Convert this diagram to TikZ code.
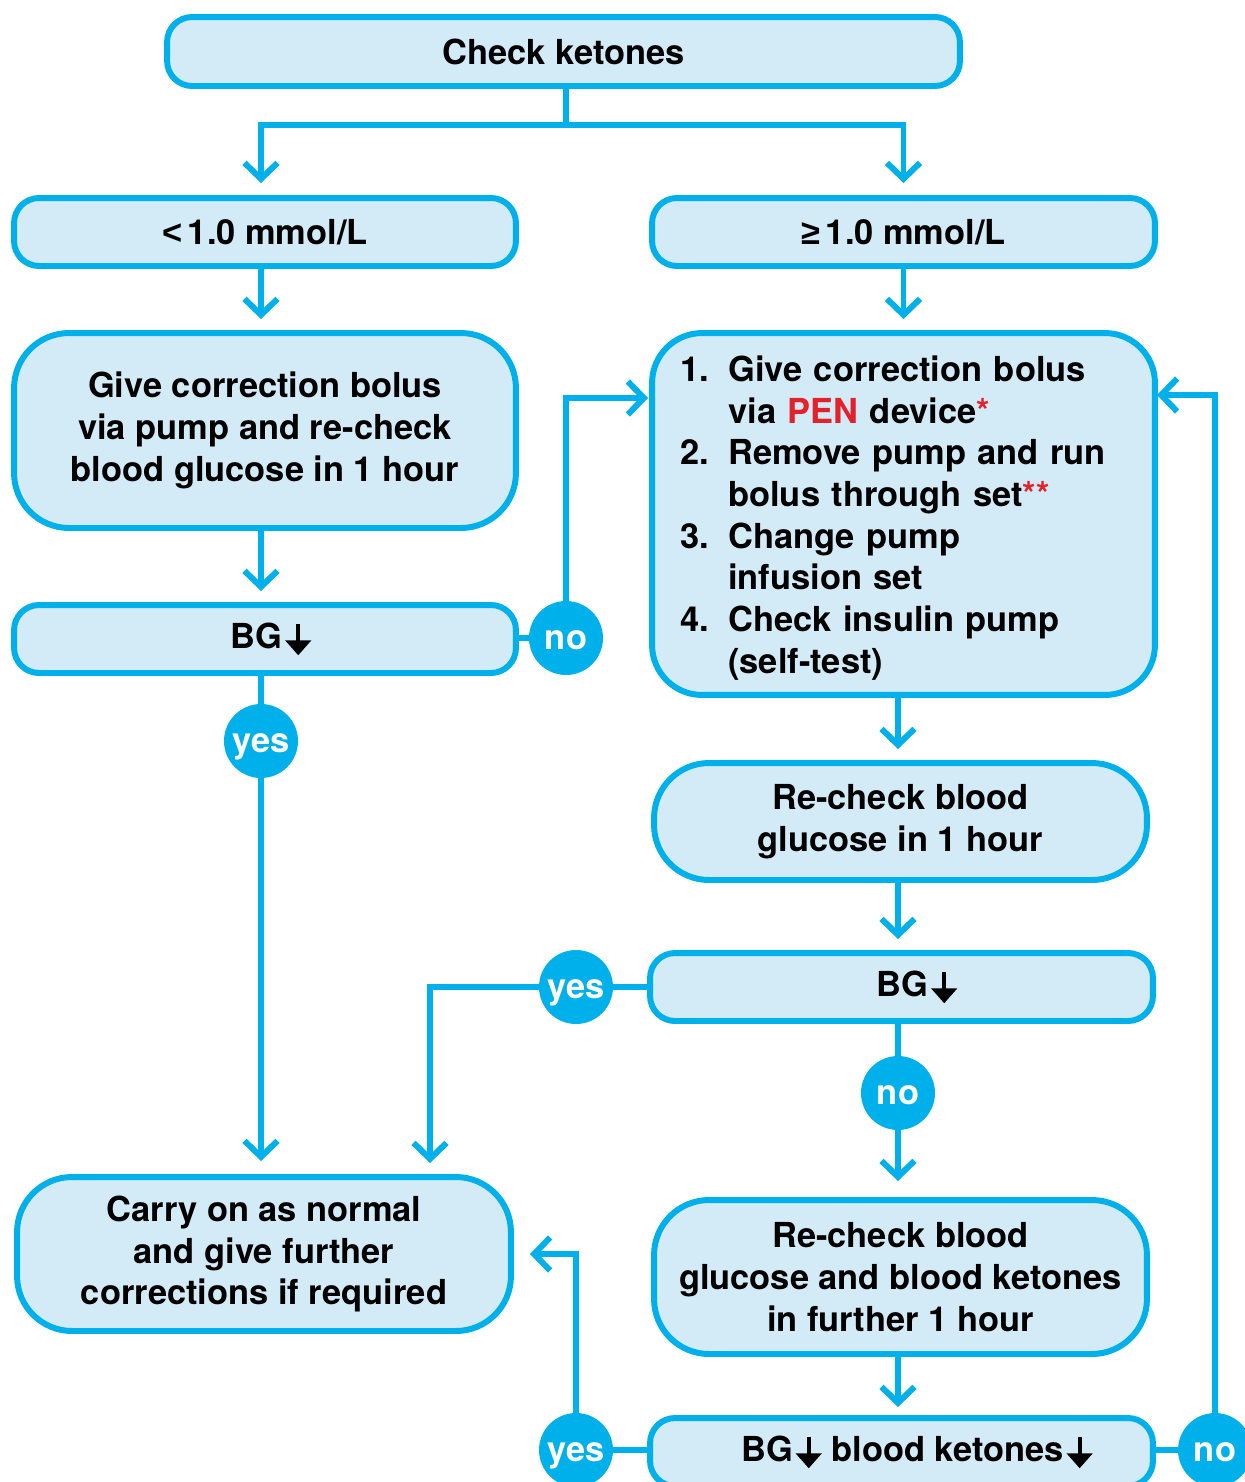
\documentclass[tikz,border=0pt]{standalone}
\usepackage{fontspec}
\setmainfont{TeX Gyre Heros}
\newfontfamily\symfont{Liberation Sans}
\usetikzlibrary{arrows.meta}

\definecolor{flowcyan}{HTML}{00B0EB}
\definecolor{boxfill}{HTML}{D3EAF7}
\definecolor{penred}{HTML}{E3212B}

% Symbols: a heavy down arrow, and signs from a font that has them
\newcommand{\dn}{\hspace{0.08em}\tikz[baseline=0pt, x=1em, y=1em, sharp corners]{%
  \fill[black] (-0.06,0.72) rectangle (0.06,0.15);
  \fill[black] (-0.38,0.23) -- (0.38,0.23) -- (0,-0.2) -- cycle;}}
\newcommand{\geqsym}{{\symfont\bfseries ≥}}
\newcommand{\ltsym}{{\symfont\bfseries <}}

\tikzset{
  boxtext/.style={font=\bfseries\fontsize{19.6}{23.7}\selectfont},
  smallbox/.style={boxtext, draw=flowcyan, fill=boxfill, line width=3.4pt,
    rounded corners=0.5cm, minimum height=1.36cm, align=center, inner sep=0pt},
  bigbox/.style={smallbox, rounded corners=1.1cm},
  answer/.style={circle, fill=flowcyan, text=white, boxtext,
    minimum size=1.48cm, inner sep=0pt, text height=12.6pt, text depth=0pt},
  line/.style={draw=flowcyan, line width=3.4pt},
  arrow/.style={line, -{Straight Barb[length=0.32cm, width=0.66cm]}}
}

\begin{document}
\begin{tikzpicture}[x=0.02cm, y=-0.02cm]

% Keep the page the size of the reference
\useasboundingbox (0,0) rectangle (1245,1482);

% Top box and the two ketone levels
\node[smallbox, minimum width=15.86cm, minimum height=1.38cm] (check) at (563.5,51.5) {Check ketones};
\node[smallbox, minimum width=10.04cm] (low) at (265,232) {\ltsym\,1.0 mmol/L};
\node[smallbox, minimum width=10.06cm] (high) at (903.5,232) {\geqsym\,1.0 mmol/L};

% Left branch
\node[bigbox, minimum width=10.04cm, minimum height=3.9cm] (pumpbolus) at (265,430.5)
  {Give correction bolus\\via pump and re-check\\blood glucose in 1 hour};
\node[smallbox, minimum width=10.04cm] (bgleft) at (265,639) {\hspace*{0.35em}BG\dn};
\node[answer] (noA) at (566,638) {no};
\node[answer] (yesA) at (261,741) {yes};
\node[bigbox, minimum width=9.88cm, minimum height=3.08cm] (carry) at (264,1254)
  {Carry on as normal\\and give further\\corrections if required};

% Right branch
\node[bigbox, minimum width=10.06cm, minimum height=7.24cm, text width=8.86cm,
  inner xsep=0.6cm, align=left, rounded corners=1cm] (steps) at (903.5,514)
  {\raisebox{-0.1cm}[\height][\depth]{\begin{tabular}{@{}l@{\hspace{11pt}}l@{}}
   \hspace*{-1pt}1. & Give correction bolus\\
      & via \textcolor{penred}{PEN} device\textcolor{penred}{*}\\
   \hspace*{-1pt}2. & Remove pump and run\\
      & bolus through set\textcolor{penred}{**}\\
   \hspace*{-1pt}3. & Change pump\\
      & infusion set\\
   \hspace*{-1pt}4. & Check insulin pump\\
      & (self-test)
   \end{tabular}}};
\node[bigbox, minimum width=9.86cm, minimum height=2.34cm] (recheck) at (900.5,821.5)
  {Re-check blood\\glucose in 1 hour};
\node[smallbox, minimum width=10.06cm] (bgright) at (901.5,987) {\hspace*{0.9em}BG\dn};
\node[answer] (yesB) at (576,987) {yes};
\node[answer] (noB) at (898,1093) {no};
\node[bigbox, minimum width=9.86cm, minimum height=3.08cm] (recheck2) at (900.5,1277)
  {Re-check blood\\glucose and blood ketones\\in further 1 hour};
\node[smallbox, minimum width=10.06cm] (bgboth) at (901.5,1452)
  {\hspace*{0.9em}BG\dn\ blood ketones\dn};
\node[answer] (yesC) at (576,1450) {yes};
\node[answer] (noC) at (1215,1450) {no};

% Where the lines split or enter a box
\coordinate (split) at (566,125);
\coordinate (stepsin) at (652,398);
\coordinate (stepsback) at (1155,395);
\coordinate (carryin) at (430,1176);

% Connectors from the top box
\draw[line] (check.south -| split) -- (split);
\draw[arrow, shorten >=0.24cm] (split) -| (yesA |- low.north);
\draw[arrow, shorten >=0.24cm] (split) -| (high.north);

% Connectors of the left branch
\draw[arrow, shorten >=0.22cm] (yesA |- low.south) -- (yesA |- pumpbolus.north);
\draw[arrow, shorten >=0.22cm] (yesA |- pumpbolus.south) -- (yesA |- bgleft.north);
\draw[line] (bgleft.east |- noA) -- (noA.west);
\draw[arrow, shorten >=0.08cm] (noA.north) |- (stepsin);
\draw[line] (bgleft.south -| yesA) -- (yesA.north);
\draw[arrow, shorten >=0.26cm] (yesA.south) -- (yesA.south |- carry.north);

% Connectors of the right branch
\draw[arrow, shorten >=0.22cm] (high.south) -- (steps.north -| high.south);
\draw[arrow, shorten >=0.22cm] (noB |- steps.south) -- (noB |- recheck.north);
\draw[arrow, shorten >=0.22cm] (noB |- recheck.south) -- (noB |- bgright.north);
\draw[line] (bgright.west |- yesB) -- (yesB.east);
\draw[arrow, shorten >=0.26cm] (yesB.west) -| (carryin);
\draw[line] (noB |- bgright.south) -- (noB.north);
\draw[arrow, shorten >=0.32cm] (noB.south) -- (noB |- recheck2.north);
\draw[arrow, shorten >=0.16cm] (noB |- recheck2.south) -- (noB |- bgboth.north);
\draw[line] (bgboth.west |- yesC) -- (yesC.east);
\draw[arrow, shorten >=0.32cm] (yesC.north) |- (carry.east);
\draw[line] (bgboth.east |- noC) -- (noC.west);
\draw[arrow, shorten >=0.04cm] (noC.north) |- (stepsback);

\end{tikzpicture}
\end{document}
